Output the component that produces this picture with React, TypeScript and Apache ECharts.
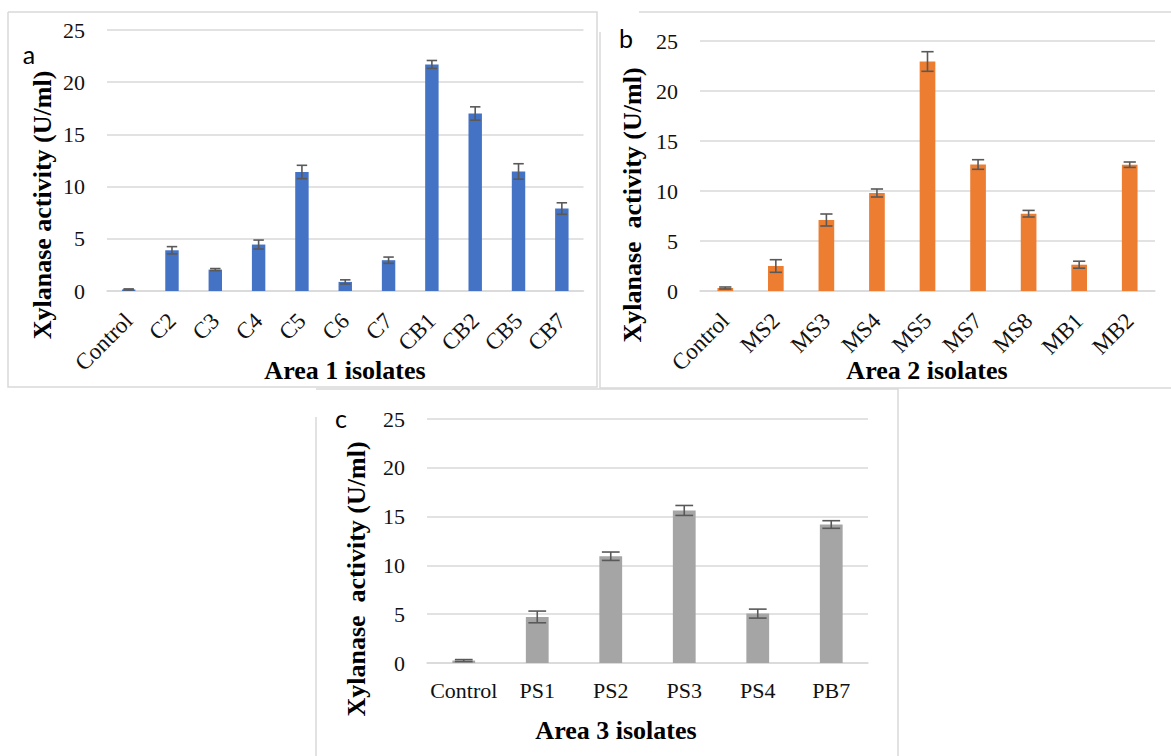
import React, { useEffect, useRef } from "react";
import * as echarts from "echarts";

const catsA = ["Control", "C2", "C3", "C4", "C5", "C6", "C7", "CB1", "CB2", "CB5", "CB7"];
const valsA = [0.15, 3.9, 2.05, 4.45, 11.4, 0.87, 2.95, 21.7, 17.0, 11.45, 7.9];
const errsA = [0.05, 0.35, 0.1, 0.43, 0.64, 0.2, 0.3, 0.38, 0.64, 0.74, 0.55];

const catsB = ["Control", "MS2", "MS3", "MS4", "MS5", "MS7", "MS8", "MB1", "MB2"];
const valsB = [0.3, 2.5, 7.1, 9.8, 22.95, 12.65, 7.73, 2.63, 12.63];
const errsB = [0.1, 0.63, 0.6, 0.4, 0.98, 0.48, 0.33, 0.35, 0.27];

const catsC = ["Control", "PS1", "PS2", "PS3", "PS4", "PB7"];
const valsC = [0.25, 4.72, 10.94, 15.63, 5.06, 14.19];
const errsC = [0.1, 0.6, 0.43, 0.51, 0.46, 0.39];

const yMin = 0;
const yMax = 25;
const yStep = 5;

const colors = ["#4472C4", "#ED7D31", "#A5A5A5"];
const yTitleA = "Xylanase activity (U/ml)";
const yTitleBC = "Xylanase\u00A0 activity (U/ml)";
const xTitles = ["Area 1 isolates", "Area 2 isolates", "Area 3 isolates"];
const letters = ["a", "b", "c"];

const SERIF = "Liberation Serif";
const GRID = "#D9D9D9";
const BORDER = "#D9D9D9";

export default function App() {
  const ref = useRef<HTMLDivElement>(null);

  useEffect(() => {
    if (!ref.current) return;
    const chart = echarts.init(ref.current, undefined, { renderer: "svg" });

    const grids = [
      { left: 107, top: 30, width: 476.5, height: 261 },
      { left: 700, top: 41, width: 455, height: 250 },
      { left: 427, top: 419, width: 441, height: 244 },
    ];
    const cats = [catsA, catsB, catsC];
    const vals = [valsA, valsB, valsC];
    const errs = [errsA, errsB, errsC];
    const rotates = [45, 45, 0];
    const margins = [26, 26, 16];
    const labelSizes = [23, 23, 22];

    const xAxis = cats.map((c, i) => ({
      type: "category",
      gridIndex: i,
      data: c,
      axisTick: { show: false },
      axisLine: { show: true, lineStyle: { color: GRID, width: 1.5 } },
      axisLabel: {
        interval: 0,
        rotate: rotates[i],
        margin: margins[i],
        fontSize: labelSizes[i],
        fontFamily: SERIF,
        color: "#111",
      },
    }));

    const yAxis = cats.map((_, i) => ({
      type: "value",
      gridIndex: i,
      min: yMin,
      max: yMax,
      interval: yStep,
      axisLine: { show: false },
      axisTick: { show: false },
      splitLine: { lineStyle: { color: GRID, width: 1.5 } },
      axisLabel: { margin: 22, fontSize: 22, fontFamily: SERIF, color: "#111" },
    }));

    const series: any[] = [];
    cats.forEach((c, i) => {
      series.push({
        type: "bar",
        xAxisIndex: i,
        yAxisIndex: i,
        data: vals[i],
        barWidth: "31%",
        itemStyle: { color: colors[i] },
        z: 2,
      });
      series.push({
        type: "custom",
        xAxisIndex: i,
        yAxisIndex: i,
        data: vals[i].map((v, k) => [k, v - errs[i][k], v + errs[i][k]]),
        encode: { x: 0, y: [1, 2] },
        z: 5,
        renderItem: (params: any, api: any) => {
          const x = api.value(0);
          const lo = api.coord([x, api.value(1)]);
          const hi = api.coord([x, api.value(2)]);
          const band = api.size([1, 0])[0];
          const half = (band * 0.31 * 0.78) / 2;
          const st = { stroke: "#595959", lineWidth: 1.6 };
          return {
            type: "group",
            children: [
              { type: "line", shape: { x1: lo[0], y1: lo[1], x2: hi[0], y2: hi[1] }, style: st },
              { type: "line", shape: { x1: lo[0] - half, y1: lo[1], x2: lo[0] + half, y2: lo[1] }, style: st },
              { type: "line", shape: { x1: hi[0] - half, y1: hi[1], x2: hi[0] + half, y2: hi[1] }, style: st },
            ],
          };
        },
      });
    });

    const lineStyle = { stroke: BORDER, lineWidth: 1.5, fill: null };
    const titleStyle = (text: string) => ({
      text,
      fontFamily: SERIF,
      fontSize: 26,
      fontWeight: "bold",
      fill: "#000",
      align: "center",
      verticalAlign: "middle",
    });
    const yTitle = (text: string, x: number, y: number) => ({
      type: "text",
      x,
      y,
      rotation: Math.PI / 2,
      style: titleStyle(text),
    });
    const xTitle = (text: string, x: number, y: number) => ({
      type: "text",
      x,
      y,
      style: titleStyle(text),
    });
    const letter = (text: string, x: number, y: number) => ({
      type: "text",
      x,
      y,
      style: {
        text,
        fontFamily: "Lato",
        fontSize: 25,
        fill: "#000",
        align: "center",
        verticalAlign: "middle",
      },
    });

    const graphic = [
      { type: "polyline", shape: { points: [[8, 12], [597, 12], [597, 387], [8, 387], [8, 12]] }, style: lineStyle },
      { type: "polyline", shape: { points: [[639, 12], [1171, 12]] }, style: lineStyle },
      { type: "polyline", shape: { points: [[600, 32], [600, 388], [1171, 388]] }, style: lineStyle },
      { type: "polyline", shape: { points: [[316, 389], [898, 389], [898, 756]] }, style: lineStyle },
      { type: "polyline", shape: { points: [[316, 417], [316, 756]] }, style: lineStyle },
      yTitle(yTitleA, 42, 205),
      yTitle(yTitleBC, 632, 205),
      yTitle(yTitleBC, 356, 579),
      xTitle(xTitles[0], 345, 370),
      xTitle(xTitles[1], 927, 370),
      xTitle(xTitles[2], 616, 730),
      letter(letters[0], 29, 54),
      letter(letters[1], 626, 38),
      letter(letters[2], 341, 418),
    ];

    chart.setOption({
      animation: false,
      backgroundColor: "#fff",
      grid: grids,
      xAxis,
      yAxis,
      series,
      graphic,
    });

    return () => chart.dispose();
  }, []);

  return (
    <div
      ref={ref}
      style={{ position: "fixed", left: 0, top: 0, width: 1171, height: 756 }}
    />
  );
}
